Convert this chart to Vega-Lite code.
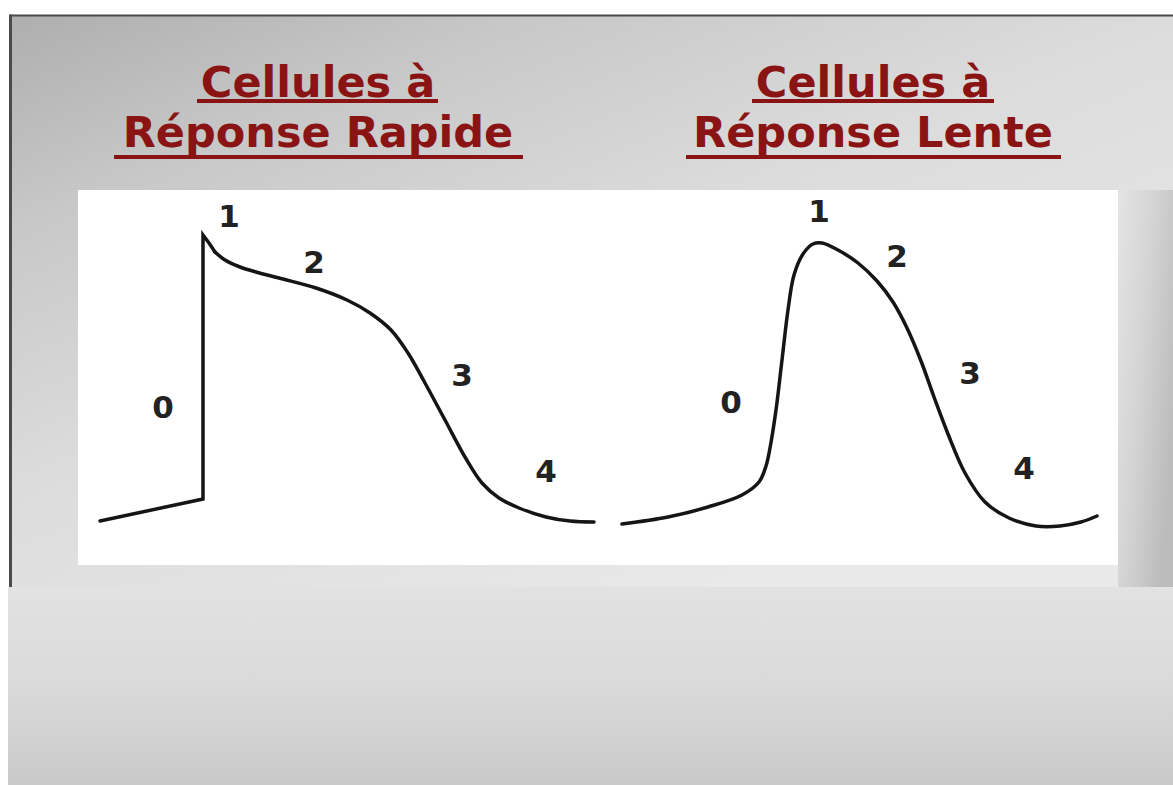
{
  "$schema": "https://vega.github.io/schema/vega-lite/v6.json",
  "autosize": {"type": "fit", "contains": "padding"},
  "width": 1173,
  "height": 785,
  "padding": 0,
  "background": "white",
  "config": {"view": {"stroke": null}},
  "datasets": {
    "panel": [{"x": 10, "x2": 1173, "y": 15, "y2": 587}],
    "rightshade": [{"x": 1118, "x2": 1173, "y": 190, "y2": 587}],
    "bottom": [{"x": 8, "x2": 1173, "y": 587, "y2": 785}],
    "white": [{"x": 78, "x2": 1118, "y": 190, "y2": 565}],
    "border": [
      {"x": 10, "x2": 1173, "y": 14.5, "y2": 16.5},
      {"x": 9, "x2": 12, "y": 14.5, "y2": 587}
    ],
    "underlines": [
      {"x": 197, "x2": 438, "y": 101},
      {"x": 114, "x2": 523, "y": 157},
      {"x": 752, "x2": 994, "y": 101},
      {"x": 686, "x2": 1061, "y": 157}
    ],
    "titles": [
      {"x": 318, "y": 97, "t": "Cellules à"},
      {"x": 318, "y": 147, "t": "Réponse Rapide"},
      {"x": 873, "y": 97, "t": "Cellules à"},
      {"x": 873, "y": 147, "t": "Réponse Lente"}
    ],
    "fastA": [
      {"i": 0, "x": 100, "y": 521},
      {"i": 1, "x": 203, "y": 499},
      {"i": 2, "x": 203, "y": 235},
      {"i": 3, "x": 209, "y": 243},
      {"i": 4, "x": 215, "y": 252}
    ],
    "fastB": [
      {"i": 0, "x": 215, "y": 252},
      {"i": 1, "x": 225, "y": 260},
      {"i": 2, "x": 240, "y": 267},
      {"i": 3, "x": 256, "y": 272},
      {"i": 4, "x": 283, "y": 279},
      {"i": 5, "x": 316, "y": 288},
      {"i": 6, "x": 347, "y": 300},
      {"i": 7, "x": 370, "y": 313},
      {"i": 8, "x": 391, "y": 330},
      {"i": 9, "x": 408, "y": 353},
      {"i": 10, "x": 425, "y": 383},
      {"i": 11, "x": 445, "y": 420},
      {"i": 12, "x": 465, "y": 457},
      {"i": 13, "x": 482, "y": 483},
      {"i": 14, "x": 499, "y": 498},
      {"i": 15, "x": 519, "y": 508},
      {"i": 16, "x": 546, "y": 517},
      {"i": 17, "x": 570, "y": 521},
      {"i": 18, "x": 594, "y": 522}
    ],
    "slow": [
      {"i": 0, "x": 622, "y": 524},
      {"i": 1, "x": 668, "y": 517},
      {"i": 2, "x": 708, "y": 507},
      {"i": 3, "x": 742, "y": 495},
      {"i": 4, "x": 759, "y": 482},
      {"i": 5, "x": 766, "y": 466},
      {"i": 6, "x": 770, "y": 448},
      {"i": 7, "x": 776, "y": 410},
      {"i": 8, "x": 782, "y": 360},
      {"i": 9, "x": 788, "y": 310},
      {"i": 10, "x": 794, "y": 275},
      {"i": 11, "x": 803, "y": 254},
      {"i": 12, "x": 813, "y": 244},
      {"i": 13, "x": 822, "y": 243},
      {"i": 14, "x": 838, "y": 250},
      {"i": 15, "x": 858, "y": 263},
      {"i": 16, "x": 877, "y": 281},
      {"i": 17, "x": 893, "y": 302},
      {"i": 18, "x": 907, "y": 328},
      {"i": 19, "x": 921, "y": 361},
      {"i": 20, "x": 934, "y": 397},
      {"i": 21, "x": 948, "y": 434},
      {"i": 22, "x": 965, "y": 473},
      {"i": 23, "x": 985, "y": 502},
      {"i": 24, "x": 1009, "y": 518},
      {"i": 25, "x": 1036, "y": 526},
      {"i": 26, "x": 1060, "y": 526},
      {"i": 27, "x": 1081, "y": 522},
      {"i": 28, "x": 1097, "y": 516}
    ],
    "labels": [
      {"x": 229, "y": 218, "t": "1"},
      {"x": 314, "y": 264, "t": "2"},
      {"x": 462, "y": 377, "t": "3"},
      {"x": 163, "y": 409, "t": "0"},
      {"x": 546, "y": 473, "t": "4"},
      {"x": 819, "y": 213, "t": "1"},
      {"x": 897, "y": 258, "t": "2"},
      {"x": 970, "y": 375, "t": "3"},
      {"x": 731, "y": 404, "t": "0"},
      {"x": 1024, "y": 470, "t": "4"}
    ]
  },
  "encoding": {
    "x": {"field": "x", "type": "quantitative", "scale": {"domain": [0, 1173]}, "axis": null},
    "y": {"field": "y", "type": "quantitative", "scale": {"domain": [0, 785], "reverse": true}, "axis": null}
  },
  "layer": [
    {
      "data": {"name": "panel"},
      "mark": {"type": "rect", "color": {"gradient": "linear", "x1": 0, "y1": 0, "x2": 0.75, "y2": 0.9, "stops": [
        {"offset": 0, "color": "#aeaeae"},
        {"offset": 0.25, "color": "#c8c8c8"},
        {"offset": 0.55, "color": "#dcdcdc"},
        {"offset": 1, "color": "#e9e9e9"}
      ]}},
      "encoding": {"x2": {"field": "x2"}, "y2": {"field": "y2"}}
    },
    {
      "data": {"name": "rightshade"},
      "mark": {"type": "rect", "color": {"gradient": "linear", "x1": 0, "y1": 0, "x2": 1, "y2": 0.6, "stops": [
        {"offset": 0, "color": "#e4e4e4"},
        {"offset": 0.5, "color": "#d4d4d4"},
        {"offset": 1, "color": "#bcbcbc"}
      ]}},
      "encoding": {"x2": {"field": "x2"}, "y2": {"field": "y2"}}
    },
    {
      "data": {"name": "bottom"},
      "mark": {"type": "rect", "color": {"gradient": "linear", "x1": 0, "y1": 0, "x2": 0, "y2": 1, "stops": [
        {"offset": 0, "color": "#e2e2e2"},
        {"offset": 0.5, "color": "#dadada"},
        {"offset": 1, "color": "#c9c9c9"}
      ]}},
      "encoding": {"x2": {"field": "x2"}, "y2": {"field": "y2"}}
    },
    {
      "data": {"name": "white"},
      "mark": {"type": "rect", "color": "#ffffff"},
      "encoding": {"x2": {"field": "x2"}, "y2": {"field": "y2"}}
    },
    {
      "data": {"name": "border"},
      "mark": {"type": "rect", "color": "#4a4a4a"},
      "encoding": {"x2": {"field": "x2"}, "y2": {"field": "y2"}}
    },
    {
      "data": {"name": "underlines"},
      "mark": {"type": "rule", "color": "#8a1414", "strokeWidth": 4},
      "encoding": {"x2": {"field": "x2"}}
    },
    {
      "data": {"name": "titles"},
      "mark": {"type": "text", "font": "DejaVu Sans", "fontWeight": "bold", "fontSize": 43, "color": "#8a1414", "align": "center", "baseline": "alphabetic"},
      "encoding": {"text": {"field": "t"}}
    },
    {
      "data": {"name": "fastA"},
      "mark": {"type": "line", "color": "#151515", "strokeWidth": 3.5, "interpolate": "linear", "strokeJoin": "miter", "strokeCap": "round"},
      "encoding": {"order": {"field": "i"}}
    },
    {
      "data": {"name": "fastB"},
      "mark": {"type": "line", "color": "#151515", "strokeWidth": 3.5, "interpolate": "catmull-rom", "strokeCap": "round"},
      "encoding": {"order": {"field": "i"}}
    },
    {
      "data": {"name": "slow"},
      "mark": {"type": "line", "color": "#151515", "strokeWidth": 3.5, "interpolate": "catmull-rom", "strokeCap": "round"},
      "encoding": {"order": {"field": "i"}}
    },
    {
      "data": {"name": "labels"},
      "mark": {"type": "text", "font": "DejaVu Sans", "fontWeight": "bold", "fontSize": 31, "color": "#222222", "align": "center", "baseline": "middle"},
      "encoding": {"text": {"field": "t"}}
    }
  ]
}
